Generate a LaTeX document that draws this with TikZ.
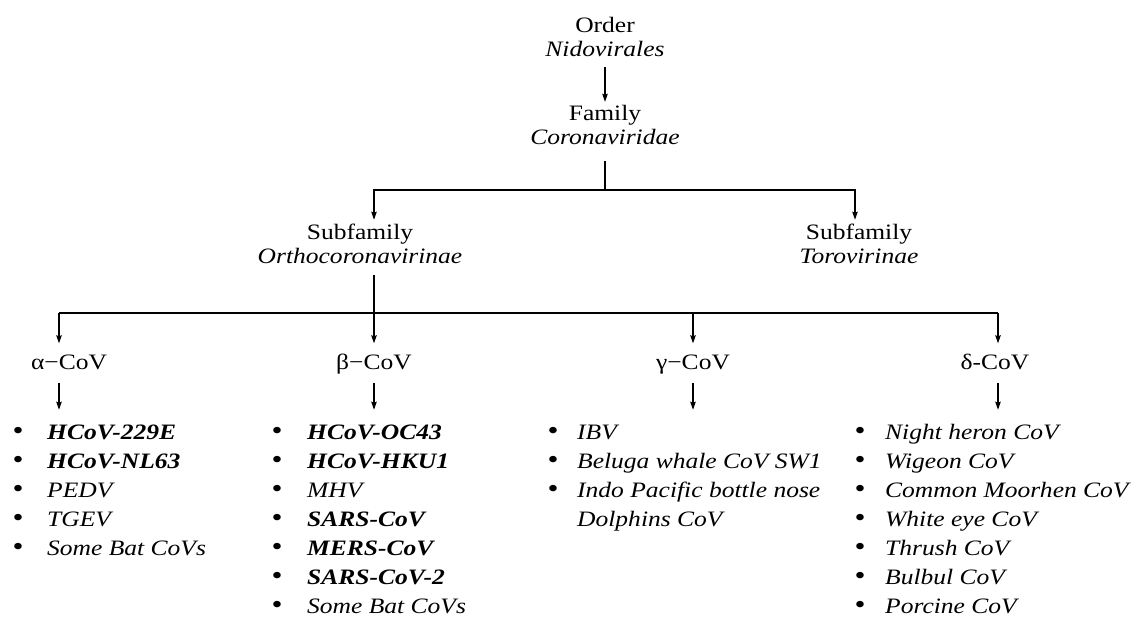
\documentclass[tikz,border=0pt]{standalone}
\usepackage{fontspec}
\setmainfont{Liberation Serif}[FakeStretch=1.16]
\usetikzlibrary{arrows.meta, positioning, calc}

\tikzset{
  taxon/.style={align=center, inner sep=0pt, font=\fontsize{22}{24.5}\selectfont},
  genus/.style={inner sep=0pt, text height=15pt, text depth=0pt, font=\fontsize{22}{24.5}\selectfont},
  item/.style={anchor=base west, inner sep=0pt, font=\fontsize{22}{26}\selectfont\itshape},
  dot/.style={anchor=base, inner sep=0pt, font=\fontsize{27}{26}\selectfont},
  arr/.style={-{Stealth[length=8pt,width=5.5pt,inset=1pt]}, line width=1.1pt},
  link/.style={line width=1.1pt}
}

\begin{document}
\begin{tikzpicture}[x=1pt, y=-1pt]
    \useasboundingbox (0,0) rectangle (1142,618);

    % Order and family
    \node[taxon] (order) at (605,37) {Order\\\textit{Nidovirales}};
    \node[taxon] (family) at (605,125) {Family\\\textit{Coronaviridae}};
    \draw[arr] ([yshift=-10pt]order.south) -- ([yshift=3pt]family.north);

    % Subfamilies
    \node[taxon] (ortho) at (360,244) {Subfamily\\\textit{Orthocoronavirinae}};
    \node[taxon] (toro) at (859,244) {Subfamily\\\textit{Torovirinae}};
    \coordinate (fbar) at (605,190);
    \draw[link] ([yshift=-16pt]family.south) -- (fbar);
    \draw[arr] (fbar) -| ([xshift=14pt,yshift=4pt]ortho.north);
    \draw[arr] (fbar) -| ([xshift=-4pt,yshift=4pt]toro.north);

    % Genera
    \node[genus] (alpha) at (69,362) {α−CoV};
    \node[genus] (beta) at (374,362) {β−CoV};
    \node[genus] (gamma) at (693,362) {γ−CoV};
    \node[genus] (delta) at (995,362) {δ-CoV};
    \coordinate (ja) at (59,313);
    \coordinate (jb) at (374,313);
    \coordinate (jg) at (693,313);
    \coordinate (jd) at (998,313);
    \draw[link] ([yshift=-11pt]ortho.south -| jb) -- (jb);
    \draw[link] (ja) -- (jd);
    \foreach \j/\g in {ja/alpha, jb/beta, jg/gamma, jd/delta} {
        \draw[arr] (\j) -- ([yshift=11pt]\j |- \g.north);
        \draw[arr] ([yshift=-13pt]\j |- \g.south) -- ([yshift=-40pt]\j |- \g.south);
    }

    % Alpha list
    \foreach \t [count=\i from 0] in {{\bfseries HCoV-229E}, {\bfseries HCoV-NL63}, PEDV, TGEV, Some Bat CoVs} {
        \node[dot] (ad\i) at (18,439.5+29*\i) {•};
        \node[item] (al\i) at (47,439.5+29*\i) {\t};
    }

    % Beta list
    \foreach \t [count=\i from 0] in {{\bfseries HCoV-OC43}, {\bfseries HCoV-HKU1}, MHV, {\bfseries SARS-CoV}, {\bfseries MERS-CoV}, {\bfseries SARS-CoV-2}, Some Bat CoVs} {
        \node[dot] (bd\i) at (277,439.5+29*\i) {•};
        \node[item] (bl\i) at (307,439.5+29*\i) {\t};
    }

    % Gamma list
    \foreach \t [count=\i from 0] in {IBV, Beluga whale CoV SW1, Indo Pacific bottle nose} {
        \node[dot] (gd\i) at (553,439.5+29*\i) {•};
        \node[item] (gl\i) at (577,439.5+29*\i) {\t};
    }
    \node[item] (gl3) at (577,439.5+29*3) {Dolphins CoV};

    % Delta list
    \foreach \t [count=\i from 0] in {Night heron CoV, Wigeon CoV, Common Moorhen CoV, White eye CoV, Thrush CoV, Bulbul CoV, Porcine CoV} {
        \node[dot] (dd\i) at (860,439.5+29*\i) {•};
        \node[item] (dl\i) at (885,439.5+29*\i) {\t};
    }
\end{tikzpicture}
\end{document}
